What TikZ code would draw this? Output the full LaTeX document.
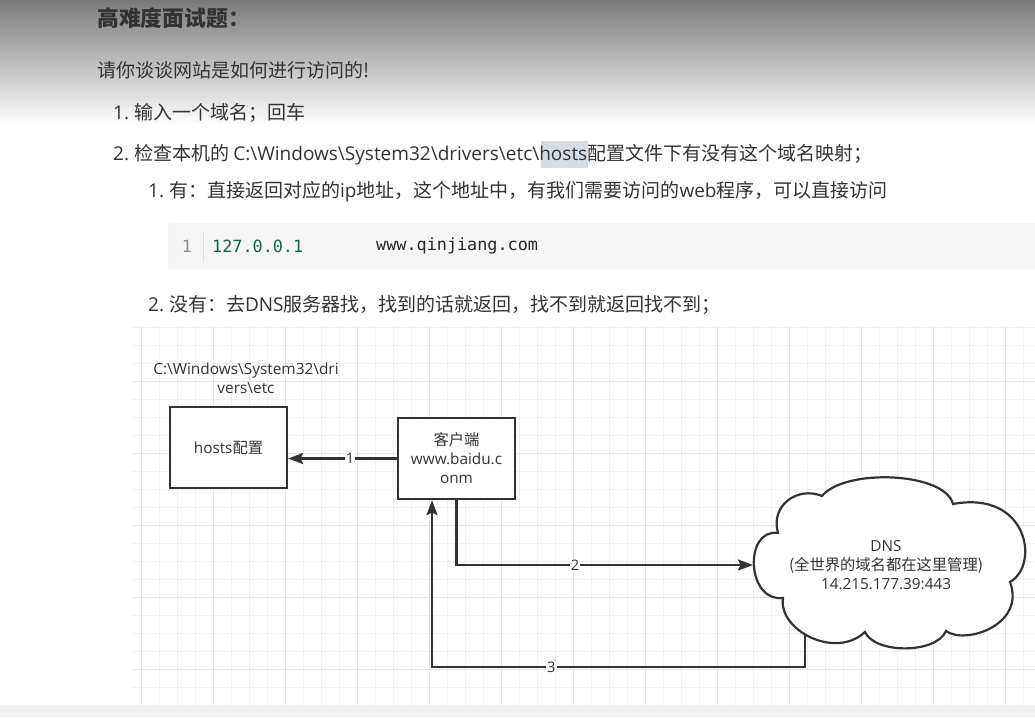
\documentclass[tikz,border=0pt]{standalone}
\usepackage{fontspec}
\setmainfont{Noto Sans CJK SC}
\newfontfamily\latf{Open Sans}
\newfontfamily\codef{DejaVu Sans Mono}
\usetikzlibrary{arrows.meta}
\definecolor{txt}{HTML}{333333}
\definecolor{gridminor}{HTML}{F0F0F0}
\definecolor{gridmajor}{HTML}{E4E4E4}
\definecolor{codebg}{HTML}{F6F6F6}
\definecolor{codenum}{HTML}{116644}
\definecolor{hilite}{HTML}{D6DCE6}
\def\lt#1{{\latf #1}}
\def\bs{\textbackslash}

\begin{document}
\begin{tikzpicture}[x=1pt,y=-1pt,
	box/.style={draw=txt,line width=2.2pt,minimum width=117pt,minimum height=81pt,align=center,text=txt,font=\fontsize{15.3}{19}\selectfont},
	conn/.style={draw=txt,line width=2.2pt,-{Stealth[length=15pt,width=11pt,inset=2.5pt]}},
	lbl/.style={fill=white,inner sep=1pt,text=txt,font=\latf\fontsize{14.5}{16}\selectfont},
	para/.style={anchor=west,inner sep=0pt,text=txt,font=\fontsize{19}{23}\selectfont}]
			%%%%% START %%%%%
			
			\useasboundingbox (0,0) rectangle (1035,717);
			\fill[white] (0,0) rectangle (1035,717);
			
			% grid of the drawing
			\foreach \gx in {141,159,...,1033}
				\draw[gridminor,line width=1pt] (\gx,326) -- (\gx,705);
			\foreach \gy in {327,345,...,705}
				\draw[gridminor,line width=1pt] (133,\gy) -- (1035,\gy);
			\foreach \gx in {141,213,...,1033}
				\draw[gridmajor,line width=1pt] (\gx,326) -- (\gx,705);
			\foreach \gy in {381,453,...,705}
				\draw[gridmajor,line width=1pt] (133,\gy) -- (1035,\gy);
			\fill[black!5] (0,705) rectangle (1035,717);
			
			% shadow on top of the page
			\shade[top color=black!52, bottom color=white] (0,0) rectangle (1035,125);
			
			% text
			\node[para,font=\bfseries\fontsize{21.8}{26}\selectfont] (title) at (97,18) {高难度面试题：};
			\node[para] (ask) at (97,70) {请你谈谈网站是如何进行访问的!};
			\node[para] (stepone) at (113,113) {\lt{1.~}输入一个域名；回车};
			\fill[hilite] (541,141) rectangle (588,168);
			\node[para] (steptwo) at (113,155) {\lt{2.~}检查本机的 \lt{C:\bs Windows\bs System32\bs drivers\bs etc\bs hosts}配置文件下有没有这个域名映射；};
			\node[para] (found) at (148,192) {\lt{1.~}有：直接返回对应的\lt{ip}地址，这个地址中，有我们需要访问的\lt{web}程序，可以直接访问};
			
			\draw[fill=codebg,draw=black!5,rounded corners=3pt] (168,223) rectangle (1045,269);
			\node[text=black!45,font=\codef\fontsize{16.8}{20}\selectfont] (lineno) at (187,246) {1};
			\draw[black!12,line width=1pt] (203,232) -- (203,262);
			\node[anchor=west,inner sep=0pt,text=codenum,font=\codef\fontsize{16.8}{20}\selectfont] (ip) at (212,246) {127.0.0.1};
			\node[anchor=west,inner sep=0pt,text=black!85,font=\codef\fontsize{16.8}{20}\selectfont] (domain) at (376,246) {www.qinjiang.com};
			
			\node[para] (notfound) at (148,305) {\lt{2.~}没有：去\lt{DNS}服务器找，找到的话就返回，找不到就返回找不到；};
			
			% diagram
			\node[align=center,text=txt,font=\latf\fontsize{15.4}{19}\selectfont] (path) at (246,378) {C:\bs Windows\bs System32\bs dri\\vers\bs etc};
			\node[box,fill=white] (hosts) at (228.5,447.5) {\lt{hosts}配置};
			\node[box,fill=white] (client) at (456.5,458.5) {客户端\\\lt{www.baidu.c}\\\lt{onm}};
			
			\draw[txt,line width=2.2pt,fill=white] (778,533) .. controls (744,528) and (746,602) .. (783,598)
				.. controls (778,630) and (835,660) .. (865,632)
				.. controls (875,654) and (936,654) .. (946,631)
				.. controls (965,645) and (1026,625) .. (1010,582)
				.. controls (1040,565) and (1028,490) .. (953,504)
				.. controls (945,472) and (845,468) .. (822,496)
				.. controls (798,486) and (770,505) .. (778,533) -- cycle;
			\node[align=center,text=txt,font=\fontsize{15.3}{19}\selectfont] (dns) at (886,565) {\lt{DNS}\\(全世界的域名都在这里管理)\\\lt{14.215.177.39:443}};
			\coordinate (dnsleft) at (753,565);
			\coordinate (dnsbot) at (805,634);
			
			\draw[conn] (client.west) -- (client.west -| hosts.east) node[lbl,pos=0.43] {1};
			\draw[conn] (client.south) |- (dnsleft) node[lbl,pos=0.70] {2};
			\draw[conn] (dnsbot) -- ++(0,33) -| ([xshift=-24.5pt]client.south) node[lbl,pos=0.34] {3};
			
			%%%%% END %%%%%
\end{tikzpicture}
\end{document}
